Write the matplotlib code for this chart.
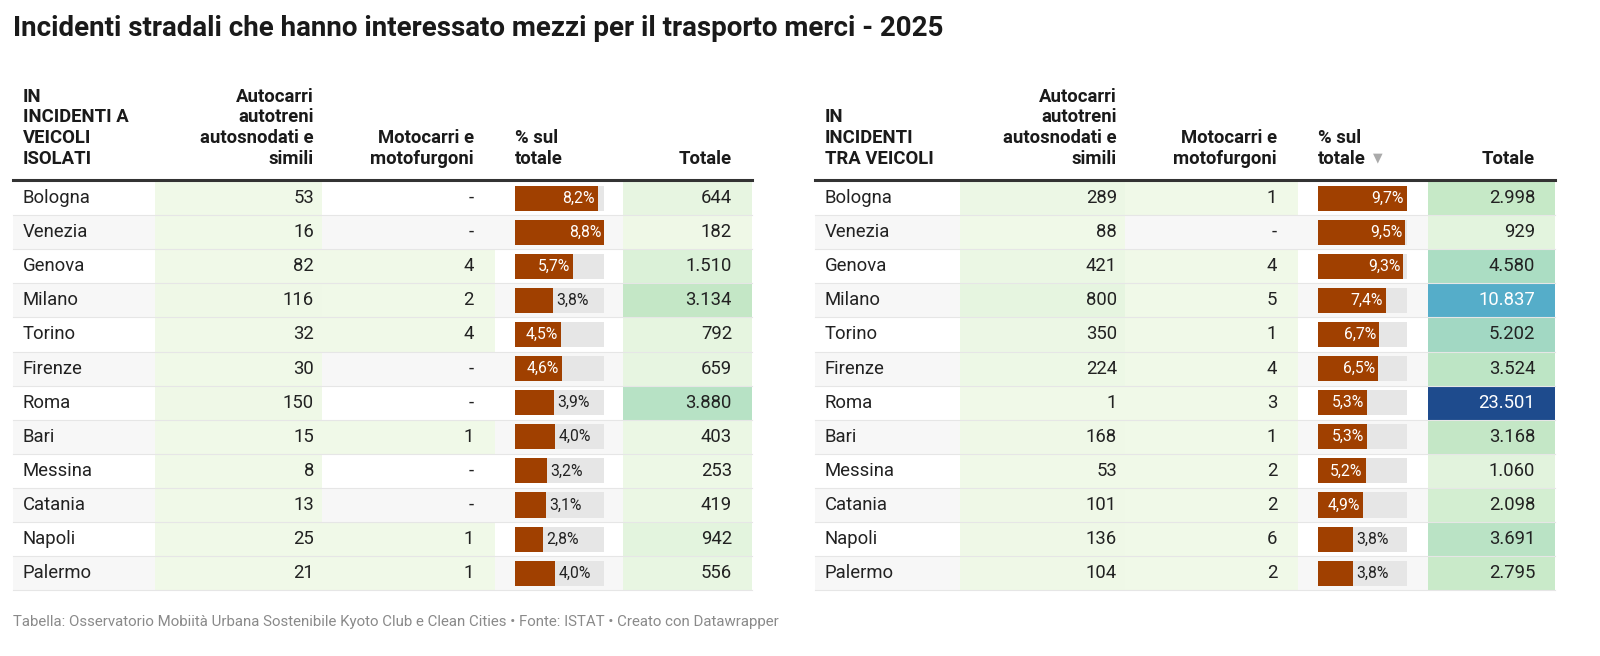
import matplotlib.pyplot as plt
import matplotlib.colors as mcolors
from matplotlib.patches import Rectangle

plt.rcParams['font.family'] = ['Roboto', 'DejaVu Sans']

cities_l = ["Bologna", "Venezia", "Genova", "Milano", "Torino", "Firenze", "Roma",
            "Bari", "Messina", "Catania", "Napoli", "Palermo"]
autocarri_l = [53, 16, 82, 116, 32, 30, 150, 15, 8, 13, 25, 21]
motocarri_l = [None, None, 4, 2, 4, None, None, 1, None, None, 1, 1]
perc_l = [8.2, 8.8, 5.7, 3.8, 4.5, 4.6, 3.9, 4.0, 3.2, 3.1, 2.8, 4.0]
totale_l = [644, 182, 1510, 3134, 792, 659, 3880, 403, 253, 419, 942, 556]

cities_r = ["Bologna", "Venezia", "Genova", "Milano", "Torino", "Firenze", "Roma",
            "Bari", "Messina", "Catania", "Napoli", "Palermo"]
autocarri_r = [289, 88, 421, 800, 350, 224, 1, 168, 53, 101, 136, 104]
motocarri_r = [1, None, 4, 5, 1, 4, 3, 1, 2, 2, 6, 2]
perc_r = [9.7, 9.5, 9.3, 7.4, 6.7, 6.5, 5.3, 5.3, 5.2, 4.9, 3.8, 3.8]
totale_r = [2998, 929, 4580, 10837, 5202, 3524, 23501, 3168, 1060, 2098, 3691, 2795]

cmap = mcolors.LinearSegmentedColormap.from_list(
    "dw", [(0, "#f0f9e8"), (0.13, "#c5e8c6"), (0.2, "#a8dcc3"),
           (0.46, "#55adc9"), (1.0, "#1e4b8d")])
vmax = max(totale_r + totale_l)

def fmt(v):
    if v is None:
        return "-"
    return f"{v:,}".replace(",", ".")

fig = plt.figure(figsize=(16, 6.56), dpi=100)
ax = fig.add_axes([0, 0, 1, 1])
ax.set_xlim(0, 1600)
ax.set_ylim(656, 0)
ax.axis("off")

FS = 13.3
ax.text(13, 29, "Incidenti stradali che hanno interessato mezzi per il trasporto merci - 2025",
        fontsize=20, fontweight="bold", va="center", color="#1a1a1a")
ax.text(13, 622, "Tabella: Osservatorio Mobiità Urbana Sostenibile Kyoto Club e Clean Cities • Fonte: ISTAT • Creato con Datawrapper",
        fontsize=10.8, color="#8a8a8a", va="center")

top = 181
rh = 34.1

def table(x0, name_hdr, cities, auto, moto, perc, tot, cols, pct_hdr):
    xa, xm, xb, xt, xe = cols
    pmax = max(perc)
    for i in range(len(cities)):
        y = top + i * rh
        if i % 2 == 1:
            ax.add_patch(Rectangle((x0, y), xe - x0, rh, color="#f7f7f7", lw=0, zorder=0))
        # heatmap cells
        for (cx0, cx1, v) in [(xa, xm, auto[i]), (xm, xb - 20, moto[i]), (xt, xe, tot[i])]:
            if v is not None:
                ax.add_patch(Rectangle((cx0, y), cx1 - cx0, rh, color=cmap(v / vmax), lw=0, zorder=1))
        ax.plot([x0, xe], [y + rh, y + rh], color="#e6e6e6", lw=0.8, zorder=2)
        cy = y + rh / 2
        ax.text(x0 + 10, cy, cities[i], fontsize=FS, va="center", color="#222", zorder=3)
        ax.text(xm - 8, cy, fmt(auto[i]), fontsize=FS, va="center", ha="right", color="#222", zorder=3)
        ax.text(xb - 41, cy, fmt(moto[i]), fontsize=FS, va="center", ha="right", color="#222", zorder=3)
        tc = cmap(tot[i] / vmax)
        lum = 0.299 * tc[0] + 0.587 * tc[1] + 0.114 * tc[2]
        ax.text(xe - 20, cy, fmt(tot[i]), fontsize=FS, va="center", ha="right",
                color="white" if lum < 0.6 else "#222", zorder=3)
        # bar
        bw = 89
        ax.add_patch(Rectangle((xb, y + 4.5), bw, rh - 9, color="#e6e6e6", lw=0, zorder=2))
        w = bw * perc[i] / pmax
        ax.add_patch(Rectangle((xb, y + 4.5), w, rh - 9, color="#a04000", lw=0, zorder=3))
        lab = f"{perc[i]:.1f}%".replace(".", ",")
        if w >= 44:
            ax.text(xb + w - 3, cy, lab, fontsize=11.3, va="center", ha="right", color="white", zorder=4)
        else:
            ax.text(xb + w + 3, cy, lab, fontsize=11.3, va="center", ha="left", color="#222", zorder=4)
    # headers
    hy = 168
    ax.text(x0 + 10, hy, name_hdr, fontsize=FS, fontweight="bold", va="bottom", ha="left",
            linespacing=1.2, color="#1a1a1a")
    ax.text(xm - 8, hy, "Autocarri\nautotreni\nautosnodati e\nsimili", fontsize=FS, fontweight="bold",
            va="bottom", ha="right", multialignment="right", linespacing=1.2, color="#1a1a1a")
    ax.text(xb - 41, hy, "Motocarri e\nmotofurgoni", fontsize=FS, fontweight="bold",
            va="bottom", ha="right", multialignment="right", linespacing=1.2, color="#1a1a1a")
    ax.text(xb, hy, pct_hdr, fontsize=FS, fontweight="bold", va="bottom", ha="left",
            linespacing=1.2, color="#1a1a1a")
    ax.text(xe - 20, hy, "Totale", fontsize=FS, fontweight="bold", va="bottom", ha="right", color="#1a1a1a")
    ax.plot([x0, xe], [top - 1, top - 1], color="#333333", lw=2.2, zorder=5)

table(13, "IN\nINCIDENTI A\nVEICOLI\nISOLATI", cities_l, autocarri_l, motocarri_l, perc_l, totale_l,
      (155, 322, 515, 623, 752), "% sul\ntotale")
table(815, "IN\nINCIDENTI\nTRA VEICOLI", cities_r, autocarri_r, motocarri_r, perc_r, totale_r,
      (960, 1125, 1318, 1428, 1555), "% sul\ntotale")
ax.text(1373, 158, "▼", fontsize=9, color="#aaaaaa", va="center", ha="left")

fig.savefig("out.png", dpi=100)
